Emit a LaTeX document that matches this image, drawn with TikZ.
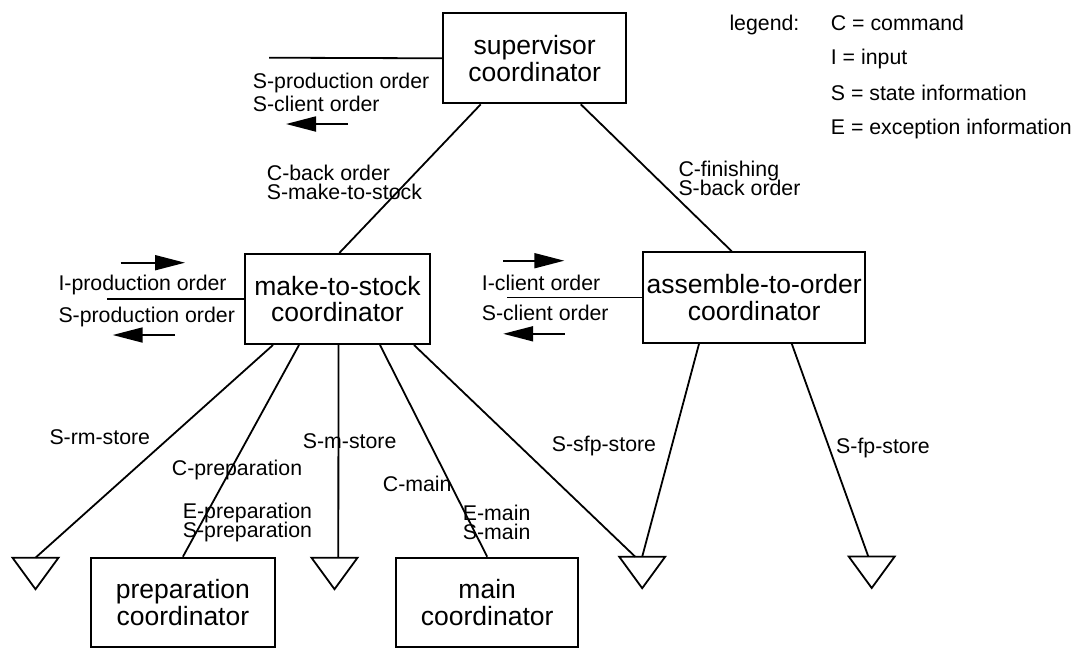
\documentclass[tikz,border=0pt]{standalone}
\usepackage{fontspec}
\setmainfont{Liberation Sans}
\usetikzlibrary{arrows.meta,calc}
\begin{document}
\begin{tikzpicture}[x=1pt,y=-1pt,
  box/.style={draw,line width=2pt,rectangle,inner sep=0pt,align=center,
    font=\fontsize{26.5}{26.7}\selectfont},
  lbl/.style={anchor=base west,inner sep=0pt,font=\fontsize{21.3}{19}\selectfont},
  conn/.style={line width=1.8pt},
  flow/.style={line width=1.8pt,-{Triangle[length=30pt,width=15pt]}},
  store/.style={line width=1.8pt,line join=miter}]
\fill[white] (0,0) rectangle (1081,649);
\useasboundingbox (0,0) rectangle (1081,649);

% boxes
\node[box,minimum width=182.7pt,minimum height=90pt] (sup) at (534.7,58.3) {supervisor\\coordinator};
\node[box,minimum width=185pt,minimum height=90pt] (mts) at (337.5,299) {make-to-stock\\coordinator};
\node[box,minimum width=221.7pt,minimum height=90.4pt] (ato) at (754.2,297.5) {assemble-to-order\\coordinator};
\node[box,minimum width=184.3pt,minimum height=89pt] (prep) at (182.9,602.2) {preparation\\coordinator};
\node[box,minimum width=182.3pt,minimum height=89pt] (main) at (487.2,602.2) {main\\coordinator};

% stores (top centres)
\coordinate (t1) at (35.5,557.7);
\coordinate (t2) at (334.5,557.7);
\coordinate (t3) at (642.2,556.7);
\coordinate (t4) at (871.7,556.5);
\foreach \t in {t1,t2,t3,t4}
  \draw[store] (\t) ++(-23,0) -- ++(46,0) -- ++(-23,31.5) -- cycle;

% free line ends
\coordinate (supL) at (269,57.7);
\coordinate (mtsL) at (107.3,299);
\coordinate (atoL) at (506.7,297.5);

% connectors
\draw[conn] (sup.west) -- (supL);
\draw[conn] ([xshift=38.4pt]sup.south west) -- ([xshift=1.8pt]mts.north);
\draw[conn] ([xshift=138.4pt]sup.south west) -- ([xshift=89.4pt]ato.north west);
\draw[conn] (mts.west) -- (mtsL);
\draw[conn] (ato.west) -- (atoL);
\draw[conn] ([xshift=29pt]mts.south west) -- (t1);
\draw[conn] ([xshift=55pt]mts.south west) -- (prep.north);
\draw[conn] ([xshift=1pt]mts.south) -- ([xshift=3.8pt]t2);
\draw[conn] ([xshift=136pt]mts.south west) -- (main.north);
\draw[conn] ([xshift=170pt]mts.south west) -- ([xshift=-7pt]t3);
\draw[conn] ([xshift=56.7pt]ato.south west) -- (t3);
\draw[conn] ([xshift=149.4pt]ato.south west) -- ([xshift=-3.4pt]t4);

% flow arrows
\coordinate (a1s) at (348,124);   \coordinate (a1e) at (286,124);
\coordinate (a2s) at (120.7,262.7); \coordinate (a2e) at (185,262.7);
\coordinate (a3s) at (175,335);   \coordinate (a3e) at (112.7,335);
\coordinate (a4s) at (503.3,260.7); \coordinate (a4e) at (564.3,260.7);
\coordinate (a5s) at (564.5,333.8); \coordinate (a5e) at (503.2,333.8);
\draw[flow] (a1s) -- (a1e);
\draw[flow] (a2s) -- (a2e);
\draw[flow] (a3s) -- (a3e);
\draw[flow] (a4s) -- (a4e);
\draw[flow] (a5s) -- (a5e);

% labels
\node[lbl] (l1) at (252.7,88.2) {S-production order};
\node[lbl] (l2) at (252.7,111.5) {S-client order};
\node[lbl] (l3) at (266.7,180.8) {C-back order};
\node[lbl] (l4) at (266.7,199.8) {S-make-to-stock};
\node[lbl] (l5) at (678.3,176.8) {C-finishing};
\node[lbl] (l6) at (678.3,195.8) {S-back order};
\node[lbl] (l7) at (58.3,290.2) {I-production order};
\node[lbl] (l8) at (58.3,322.5) {S-production order};
\node[lbl] (l9) at (481.7,290.2) {I-client order};
\node[lbl] (l10) at (481.7,320.8) {S-client order};
\node[lbl] (l11) at (49.3,444.2) {S-rm-store};
\node[lbl] (l12) at (171.7,475.2) {C-preparation};
\node[lbl] (l13) at (182.7,518.5) {E-preparation};
\node[lbl] (l14) at (182.7,537.5) {S-preparation};
\node[lbl] (l15) at (302.7,448.5) {S-m-store};
\node[lbl] (l16) at (382.7,491.8) {C-main};
\node[lbl] (l17) at (462.7,520.2) {E-main};
\node[lbl] (l18) at (462.7,539.2) {S-main};
\node[lbl] (l19) at (551.7,451.8) {S-sfp-store};
\node[lbl] (l20) at (836,453.5) {S-fp-store};

% legend
\node[lbl] (lg) at (729.3,30.2) {legend:};
\node[lbl] (lgC) at (830.7,30.2) {C = command};
\node[lbl] (lgI) at (830.7,64.8) {I = input};
\node[lbl] (lgS) at (830.7,100.2) {S = state information};
\node[lbl] (lgE) at (830.7,134.8) {E = exception information};
\end{tikzpicture}
\end{document}
